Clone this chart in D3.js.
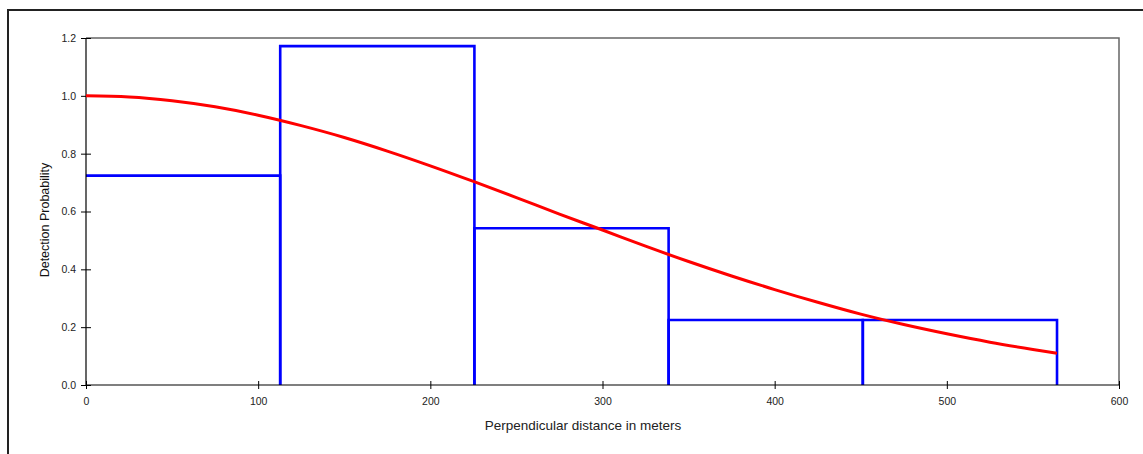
<!DOCTYPE html>
<html>
<head>
<meta charset="utf-8">
<script src="https://cdn.jsdelivr.net/npm/d3@7"></script>
<style>
  body { margin: 0; background: #fff; }
  svg text { font-family: "Liberation Sans", Arial, sans-serif; }
</style>
</head>
<body>
<div id="chart"></div>
<script>
// histogram bins (meters) and scaled detection frequencies
var binEdges = [0, 112.8, 225.6, 338.4, 451.2, 564];
var binValues = [0.724, 1.172, 0.542, 0.225, 0.225];

// fitted detection function
var curveX = [0, 25, 50, 75, 100, 125, 150, 175, 200, 225, 250, 275, 300, 325, 350, 375, 400, 425, 450, 475, 500, 525, 550, 564];
var curveY = [1.0, 0.996, 0.983, 0.962, 0.933, 0.897, 0.856, 0.809, 0.758, 0.704, 0.648, 0.591, 0.536, 0.480, 0.427, 0.377, 0.330, 0.286, 0.245, 0.209, 0.177, 0.148, 0.123, 0.110];

var xTicks = [0, 100, 200, 300, 400, 500, 600];
var yTicks = [0, 0.2, 0.4, 0.6, 0.8, 1.0, 1.2];

var width = 1143, height = 454;
var margin = {top: 38, right: 24, bottom: 69, left: 86};

var svg = d3.select("#chart").append("svg")
    .attr("width", width)
    .attr("height", height);

// outer frame (only top and left visible)
svg.append("path")
  .attr("d", "M8," + height + "V10H" + width)
  .attr("fill", "none")
  .attr("stroke", "#222")
  .attr("stroke-width", 2);

var x = d3.scaleLinear().domain([0, 600]).range([margin.left, width - margin.right]);
var y = d3.scaleLinear().domain([0, 1.2]).range([height - margin.bottom, margin.top]);

// plot frame: top & right grey
svg.append("path")
  .attr("d", "M" + x(0) + "," + y(1.2) + "H" + x(600) + "V" + y(0))
  .attr("fill", "none")
  .attr("stroke", "#666")
  .attr("stroke-width", 1.5);

// histogram bars: sides and top only, the axes close them
var bins = binValues.map(function (v, i) {
  return {x0: binEdges[i], x1: binEdges[i + 1], v: v};
});
svg.append("g").selectAll("path")
  .data(bins)
  .enter().append("path")
  .attr("d", function (d) {
    var start = d.x0 === 0 ? "M" + x(d.x0) + "," + y(d.v) : "M" + x(d.x0) + "," + y(0) + "V" + y(d.v);
    return start + "H" + x(d.x1) + "V" + y(0);
  })
  .attr("fill", "none")
  .attr("stroke", "#0000ff")
  .attr("stroke-width", 2.6);

// axes
var yAxis = svg.append("g")
  .attr("transform", "translate(" + x(0) + ",0)")
  .call(d3.axisLeft(y).tickValues(yTicks).tickFormat(d3.format(".1f")).tickSize(5).tickPadding(5));
yAxis.selectAll(".tick line").attr("x2", 5).attr("x1", -5);

var xAxis = svg.append("g")
  .attr("transform", "translate(0," + y(0) + ")")
  .call(d3.axisBottom(x).tickValues(xTicks).tickFormat(d3.format("d")).tickSize(4).tickPadding(9));
xAxis.selectAll(".tick line").attr("y1", -4);

[yAxis, xAxis].forEach(function (a) {
  a.select(".domain").attr("stroke", "#000").attr("stroke-width", 1.2);
  a.selectAll(".tick line").attr("stroke", "#000");
  a.selectAll("text").attr("font-size", 10.5).attr("fill", "#222");
});
xAxis.select(".domain").attr("d", "M" + x(0) + ",0H" + x(600));
yAxis.select(".domain").attr("d", "M0," + y(0) + "V" + y(1.2));

// detection curve
var pts = curveX.map(function (d, i) { return [d, curveY[i]]; });
svg.append("path")
  .datum(pts)
  .attr("fill", "none")
  .attr("stroke", "#ff0000")
  .attr("stroke-width", 3)
  .attr("d", d3.line()
    .curve(d3.curveMonotoneX)
    .x(function (d) { return x(d[0]); })
    .y(function (d) { return y(d[1]); }));

// axis titles
svg.append("text")
  .attr("x", 583)
  .attr("y", 430)
  .attr("text-anchor", "middle")
  .attr("font-size", 13.5)
  .attr("fill", "#222")
  .text("Perpendicular distance in meters");

svg.append("text")
  .attr("transform", "translate(49,220) rotate(-90)")
  .attr("text-anchor", "middle")
  .attr("font-size", 12.5)
  .attr("fill", "#111")
  .text("Detection Probability");
</script>
</body>
</html>
